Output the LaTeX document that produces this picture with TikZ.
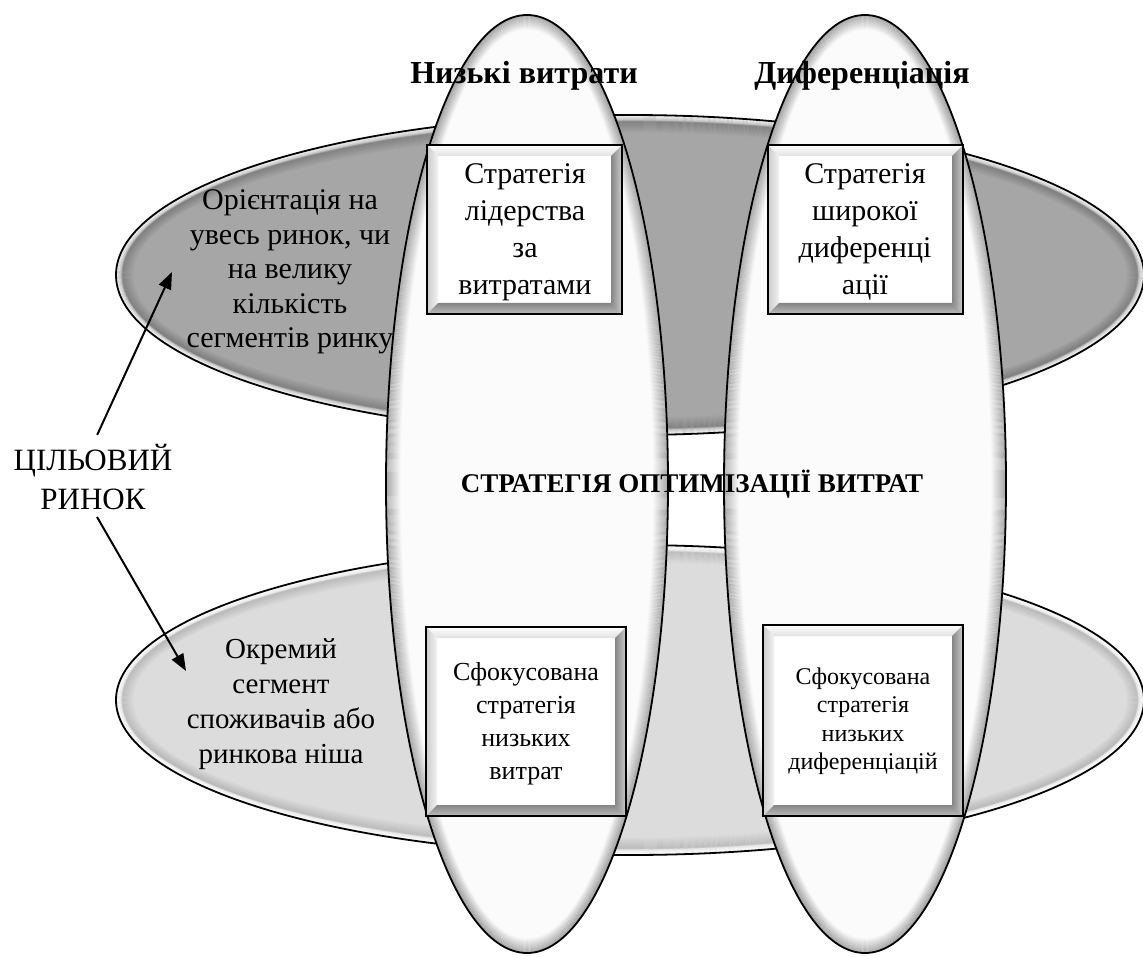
\documentclass[tikz,border=0pt]{standalone}
\usepackage{fontspec}
\setmainfont{Liberation Serif}
\usetikzlibrary{arrows.meta}
\definecolor{topfill}{HTML}{A6A6A6}
\definecolor{botfill}{HTML}{DCDCDC}
\definecolor{vfill}{HTML}{FBFBFB}
\newcommand{\myfs}[2]{\fontsize{#1}{#2}\selectfont}
% ring shading inside an ellipse: cx, cy, rx, ry, colour, max opacity, count, offset
\newcommand{\ringshade}[8]{%
  \foreach \i in {1,...,#7}{%
    \pgfmathsetmacro{\op}{#6*(1-(\i-1)/#7)}%
    \pgfmathsetmacro{\rxx}{#3-\i-#8}%
    \pgfmathsetmacro{\ryy}{#4-\i-#8}%
    \draw[draw=#5, line width=1.1pt, opacity=\op] (#1,#2) ellipse [x radius=\rxx pt, y radius=\ryy pt];
  }}
% bevelled box: x1,y1,x2,y2
\newcommand{\bevbox}[4]{%
  \fill[white] (#1,#2) rectangle (#3,#4);
  \shade[top color=white, bottom color=black!12] (#1,#2) -- (#3,#2) -- (#3-11,#2+11) -- (#1+11,#2+11) -- cycle;
  \shade[left color=black!20, right color=black!5] (#1,#2) -- (#1+11,#2+11) -- (#1+11,#4-11) -- (#1,#4) -- cycle;
  \shade[left color=black!48, right color=black!20] (#3,#2) -- (#3,#4) -- (#3-11,#4-11) -- (#3-11,#2+11) -- cycle;
  \shade[top color=black!48, bottom color=black!26] (#1,#4) -- (#3,#4) -- (#3-11,#4-11) -- (#1+11,#4-11) -- cycle;
  \draw[line width=2pt] (#1,#2) rectangle (#3,#4);
}
\tikzset{
  txt/.style={align=center, inner sep=0pt, font=\myfs{30}{34.5}},
  boxtxt/.style={align=center, inner sep=0pt},
  ttl/.style={inner sep=0pt, anchor=base, font=\bfseries\myfs{32}{38}},
  arr/.style={line width=2pt, -{Triangle[length=17pt,width=13pt]}},
  outline/.style={line width=1.8pt}
}
\begin{document}
\begin{tikzpicture}[x=1pt,y=-1pt]
\useasboundingbox (0,0) rectangle (1143,957);
\fill[white] (0,0) rectangle (1143,957);

% top horizontal ellipse
\fill[topfill] (630,275) ellipse [x radius=514pt, y radius=160pt];
\ringshade{630}{275}{514}{160}{black}{0.18}{12}{5}
\ringshade{630}{275}{514}{160}{white}{0.8}{6}{0}
\draw[outline] (630,275) ellipse [x radius=514pt, y radius=160pt];

% bottom horizontal ellipse
\fill[botfill] (630,700) ellipse [x radius=514pt, y radius=155pt];
\ringshade{630}{700}{514}{155}{black}{0.12}{12}{5}
\ringshade{630}{700}{514}{155}{white}{0.9}{6}{0}
\draw[outline] (630,700) ellipse [x radius=514pt, y radius=155pt];

% vertical ellipses
\fill[vfill] (527,484) ellipse [x radius=141pt, y radius=469pt];
\ringshade{527}{484}{141}{469}{black}{0.26}{14}{0}
\draw[outline] (527,484) ellipse [x radius=141pt, y radius=469pt];

\fill[vfill] (865,484) ellipse [x radius=141pt, y radius=469pt];
\ringshade{865}{484}{141}{469}{black}{0.26}{14}{0}
\draw[outline] (865,484) ellipse [x radius=141pt, y radius=469pt];

% boxes
\bevbox{427}{145}{622}{314}
\bevbox{768}{145}{963}{314}
\bevbox{426}{627}{626}{816}
\bevbox{763}{625}{963}{816}

\node[boxtxt, font=\myfs{30}{37}] (b1) at (525,232) {Стратегія\\лідерства\\за\\витратами};
\node[boxtxt, font=\myfs{30}{37}] (b2) at (865,232) {Стратегія\\широкої\\диференці\\ації};
\node[boxtxt, font=\myfs{26}{33}] (b3) at (526,724) {Сфокусована\\стратегія\\низьких\\витрат};
\node[boxtxt, font=\myfs{24}{28.5}] (b4) at (863,721) {Сфокусована\\стратегія\\низьких\\диференціацій};

% titles
\node[ttl] (t1) at (524,84) {Низькі витрати};
\node[ttl] (t2) at (862,84) {Диференціація};
\node[inner sep=0pt, anchor=base, font=\bfseries\myfs{27}{31}] (tc) at (692,492) {СТРАТЕГІЯ ОПТИМІЗАЦІЇ ВИТРАТ};

% ellipse texts
\node[txt] (wide) at (290,272) {Орієнтація на\\увесь ринок, чи\\на велику\\кількість\\сегментів ринку};
\node[txt, font=\myfs{29}{35}] (niche) at (281,704) {Окремий\\сегмент\\споживачів або\\ринкова ніша};

% target market label and arrows
\node[align=center, inner sep=0pt, font=\myfs{31}{39}] (tm) at (93,477) {ЦІЛЬОВИЙ\\РИНОК};
\coordinate (up) at (172,272);
\coordinate (down) at (186,671);
\draw[arr, shorten <=10pt] (tm.north) -- (up);
\draw[arr, shorten <=8pt] (tm.south) -- (down);
\end{tikzpicture}
\end{document}
